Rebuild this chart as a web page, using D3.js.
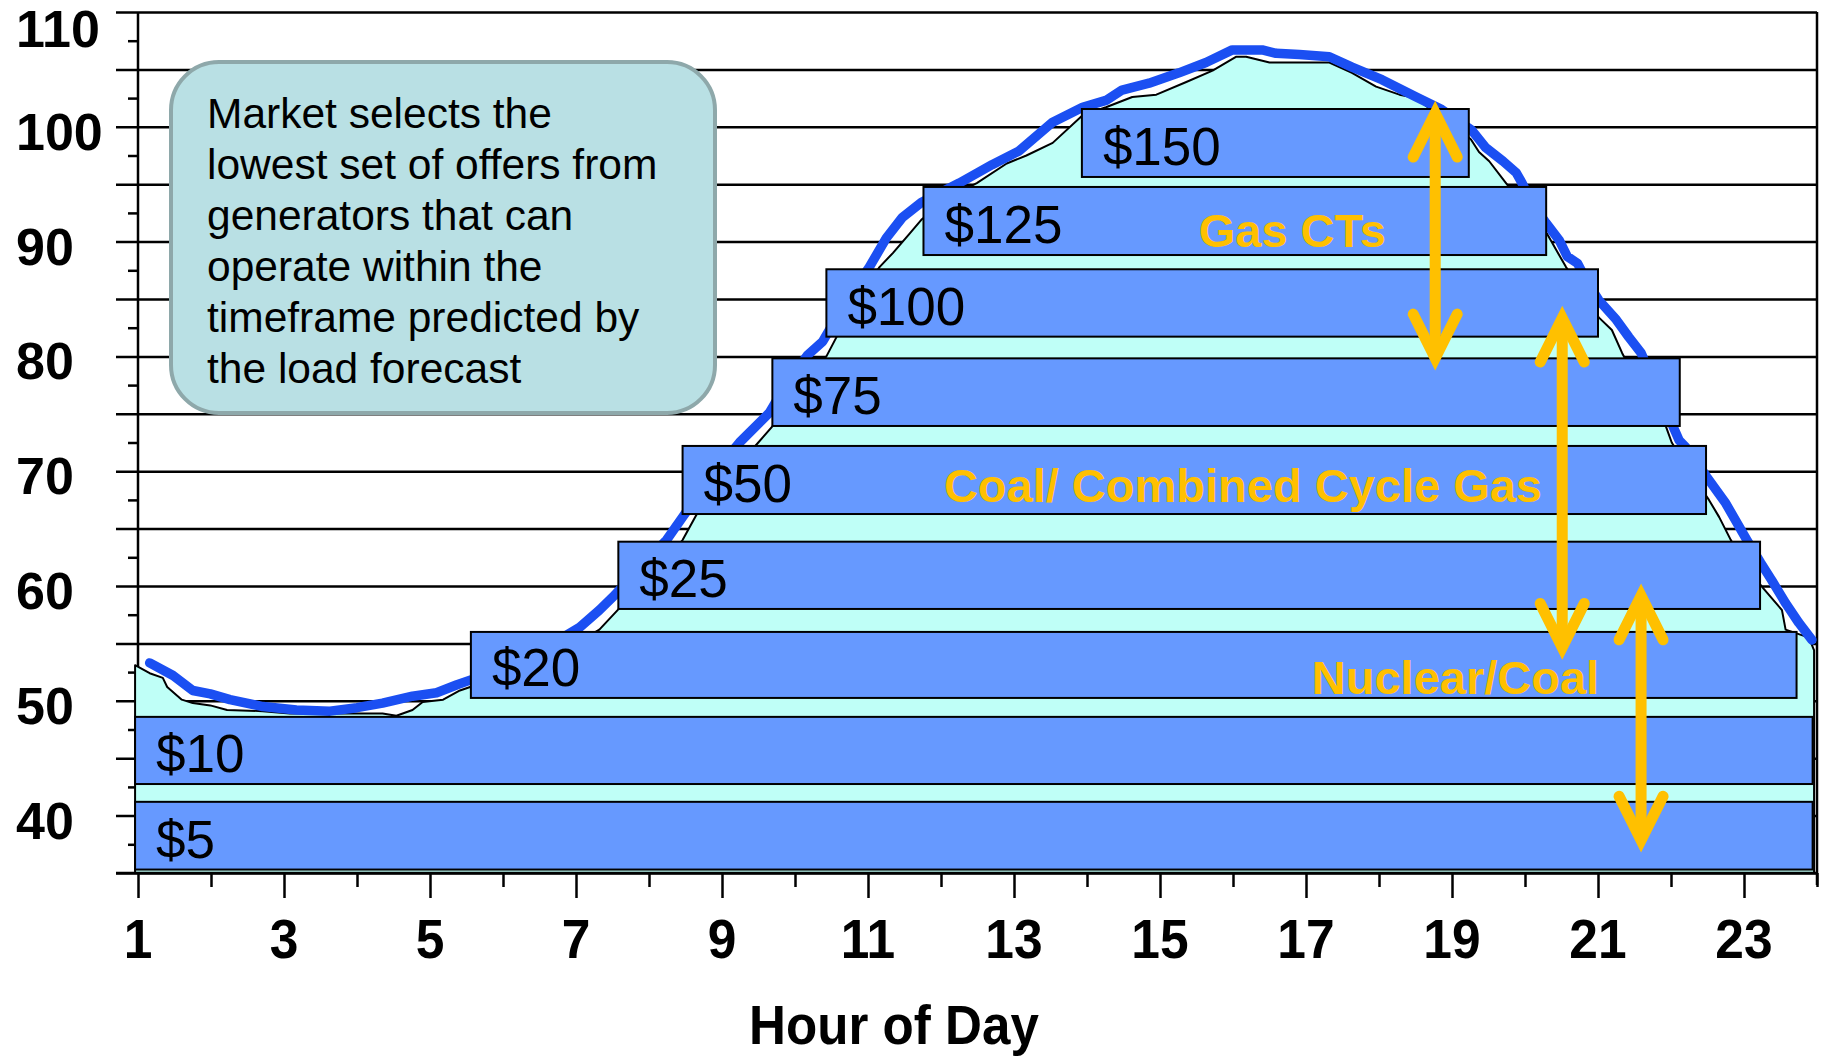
<!DOCTYPE html>
<html>
<head>
<meta charset="utf-8">
<script src="https://cdn.jsdelivr.net/npm/d3@7"></script>
<style>
  html, body { margin: 0; padding: 0; background: #ffffff; }
  svg { display: block; font-family: "Liberation Sans", Arial, Helvetica, sans-serif; }
</style>
</head>
<body>
<svg id="chart" width="1825" height="1060"></svg>
<script>
// ---- axis ticks ----
const xTickLabels = [1, 3, 5, 7, 9, 11, 13, 15, 17, 19, 21, 23];
const yTickLabels = [40, 50, 60, 70, 80, 90, 100, 110];

// ---- actual load (hour of day, load) ----
const loadHour = [0.96, 1.16, 1.34, 1.40, 1.60, 1.75, 1.99, 2.22, 2.71, 3.08, 3.45, 4.08, 4.35, 4.54,
  4.76, 4.90, 5.18, 5.41, 5.55, 6.0, 6.5, 7.0, 7.32, 7.57, 8.0, 8.46, 8.65, 9.0, 9.47, 9.69,
  10.0, 10.43, 10.57, 10.85, 11.16, 11.34, 11.57, 11.73, 12.1, 12.49, 12.90, 13.17, 13.53,
  13.94, 14.26, 14.62, 14.95, 15.36, 15.72, 16.04, 16.18, 16.50, 17.32, 17.63, 17.96, 18.28,
  18.51, 18.69, 19.0, 19.26, 19.37, 19.51, 19.74, 20.0, 20.30, 20.56, 20.8, 21.01, 21.19,
  21.33, 21.6, 21.93, 22.01, 22.25, 22.52, 22.66, 22.82, 23.0, 23.25, 23.52, 23.57, 23.89, 23.96];
const loadMW = [53.1, 52.4, 52.0, 51.2, 50.1, 49.8, 49.6, 49.2, 49.1, 48.9, 48.9, 48.9, 48.9, 48.7,
  49.2, 49.9, 50.1, 50.9, 51.2, 52.0, 53.3, 55.0, 56.2, 57.9, 60.8, 64.0, 66.2, 69.0, 72.3, 73.9,
  76.8, 80.0, 81.7, 85.0, 87.8, 89.0, 90.7, 91.9, 93.8, 95.1, 96.8, 97.5, 98.6,
  101.0, 101.7, 102.6, 102.8, 103.9, 104.9, 106.1, 106.1, 105.6, 105.6, 104.7, 103.5, 102.8,
  102.5, 101.6, 100.3, 98.9, 97.8, 97.0, 95.1, 93.0, 90.7, 87.8, 85.5, 83.4, 82.3,
  80.3, 77.0, 73.9, 72.5, 70.0, 67.5, 66.0, 64.0, 62.0, 59.9, 57.9, 56.2, 55.5, 54.4];

// ---- load forecast (hour of day, load) ----
const forecastHour = [1.16, 1.48, 1.75, 1.99, 2.26, 2.71, 3.17, 3.63, 4.00, 4.35, 4.76, 5.09, 5.37,
  5.55, 6.0, 6.5, 7.05, 7.32, 7.53, 7.9, 8.24, 8.46, 8.85, 9.24, 9.51, 9.65, 9.9, 10.17, 10.38,
  10.7, 11.02, 11.25, 11.47, 11.73, 12.25, 12.70, 13.07, 13.53, 13.94, 14.26, 14.48, 14.85,
  15.26, 15.63, 15.99, 16.40, 16.59, 16.91, 17.32, 17.63, 18.04, 18.51, 18.86, 19.27, 19.46,
  19.7, 19.88, 19.96, 20.1, 20.29, 20.47, 20.58, 20.72, 20.85, 21.01, 21.25, 21.42, 21.59,
  21.85, 22.11, 22.20, 22.35, 22.49, 22.75, 23.04, 23.23, 23.38, 23.57, 23.75, 23.93];
const forecastMW = [53.3, 52.2, 50.9, 50.6, 50.1, 49.5, 49.2, 49.1, 49.4, 49.8, 50.4, 50.7, 51.4,
  51.8, 52.8, 54.3, 56.4, 57.9, 59.2, 61.8, 64.0, 66.0, 69.5, 72.5, 74.2, 75.1, 77.8, 80.1, 81.3,
  84.8, 87.8, 90.3, 92.1, 93.4, 95.1, 96.7, 97.9, 100.4, 101.7, 102.3, 103.2, 103.8,
  104.7, 105.6, 106.7, 106.7, 106.4, 106.3, 106.1, 105.2, 104.1, 102.6, 101.5, 99.7, 98.2,
  97.0, 96.0, 95.1, 93.3, 91.6, 90.1, 88.7, 88.1, 86.5, 84.9, 83.2, 81.7, 80.3,
  76.5, 72.7, 72.1, 70.8, 69.5, 67.2, 64.0, 62.0, 60.5, 58.5, 56.8, 55.3];

// ---- generator offer blocks ----
const offerPrices = ["$5", "$10", "$20", "$25", "$50", "$75", "$100", "$125", "$150"];
const offerLow    = [35.3, 42.75, 50.25, 58.0, 66.27, 73.94, 81.72, 88.83, 95.63];
const offerHigh   = [41.2, 48.6, 56.0, 63.86, 72.2, 79.83, 87.59, 94.76, 101.55];
const offerStart  = [0.96, 0.96, 5.56, 7.58, 8.46, 9.69, 10.43, 11.76, 13.93];
const offerEnd    = [23.94, 23.94, 23.72, 23.22, 22.48, 22.12, 21.0, 20.29, 19.23];

// ---- generation type ranges (double-headed arrows) ----
const rangeHour = [18.77, 20.51, 21.59];
const rangeTop  = [101.55, 83.7, 59.5];
const rangeBottom = [79.5, 54.3, 37.5];

// ---- generation type labels ----
const typeNames = ["Gas CTs", "Coal/ Combined Cycle Gas", "Nuclear/Coal"];
const typeHour  = [15.53, 12.04, 17.08];
const typeLoad  = [89.5, 67.3, 50.6];

const noteLines = ["Market selects the", "lowest set of offers from", "generators that can",
  "operate within the", "timeframe predicted by", "the load forecast"];

// ---- layout ----
const svg = d3.select("#chart");
const plotL = 138, plotR = 1817, plotT = 12, plotB = 873;
const x = d3.scaleLinear().domain([1, 24]).range([plotL, plotR]);
const y = d3.scaleLinear().domain([35, 110]).range([plotB, plotT]);

const BAR = "#6699ff", AREA = "#bffff7", BLUE = "#1b4ff2", GOLD = "#ffc000";

// horizontal gridlines every 5, extended left as the major ticks
const major = d3.range(35, 110.01, 5);
const minor = d3.range(37.5, 110, 5);
svg.append("g")
  .attr("transform", `translate(116,0)`)
  .call(d3.axisLeft(y).tickValues(major).tickSize(-(plotR - 116)).tickFormat(""))
  .call(g => g.select(".domain").remove())
  .call(g => g.selectAll("line").attr("stroke", "#000").attr("stroke-width", 2.5));

svg.append("g")
  .attr("transform", `translate(${plotL},0)`)
  .call(d3.axisLeft(y).tickValues(minor).tickSize(10).tickFormat(""))
  .call(g => g.select(".domain").remove())
  .call(g => g.selectAll("line").attr("stroke", "#000").attr("stroke-width", 2.5));

// right frame
svg.append("line").attr("x1", plotR).attr("x2", plotR).attr("y1", plotT).attr("y2", plotB + 12)
  .attr("stroke", "#000").attr("stroke-width", 2.5);

// y axis line
svg.append("line").attr("x1", plotL).attr("x2", plotL).attr("y1", plotT).attr("y2", plotB)
  .attr("stroke", "#000").attr("stroke-width", 2.5);

// note box
const note = svg.append("g");
note.append("rect").attr("x", 171).attr("y", 62).attr("width", 544).attr("height", 351)
  .attr("rx", 48).attr("ry", 48)
  .attr("fill", "#b9e0e4").attr("stroke", "#8ea8aa").attr("stroke-width", 4);
note.selectAll("text").data(noteLines).join("text")
  .attr("x", 207).attr("y", (d, i) => 128 + i * 51)
  .attr("font-size", 42.5).attr("fill", "#000").text(d => d);

// actual load area
const loadPts = loadHour.map((h, i) => [h, loadMW[i]]);
svg.append("path").datum(loadPts)
  .attr("d", d3.area().x(d => x(d[0])).y0(y(35)).y1(d => y(d[1])))
  .attr("fill", AREA).attr("stroke", "#000").attr("stroke-width", 2).attr("stroke-linejoin", "round");

// x axis: odd hours long ticks, even hours short ticks
svg.append("g")
  .attr("transform", `translate(0,${plotB})`)
  .call(d3.axisBottom(x).tickValues(d3.range(1, 25, 2)).tickSize(25).tickFormat(""))
  .call(g => g.select(".domain").remove())
  .call(g => g.selectAll("line").attr("stroke", "#000").attr("stroke-width", 2.5));
svg.append("g")
  .attr("transform", `translate(0,${plotB})`)
  .call(d3.axisBottom(x).tickValues(d3.range(2, 25, 2)).tickSize(14).tickFormat(""))
  .call(g => g.select(".domain").remove())
  .call(g => g.selectAll("line").attr("stroke", "#000").attr("stroke-width", 2.5));
svg.append("line").attr("x1", 116).attr("x2", plotR).attr("y1", plotB).attr("y2", plotB)
  .attr("stroke", "#000").attr("stroke-width", 2.5);

// forecast line
const fcPts = forecastHour.map((h, i) => [h, forecastMW[i]]);
svg.append("path").datum(fcPts)
  .attr("d", d3.line().x(d => x(d[0])).y(d => y(d[1])))
  .attr("fill", "none").attr("stroke", BLUE).attr("stroke-width", 9.5)
  .attr("stroke-linecap", "round").attr("stroke-linejoin", "round");

// offer blocks
const offers = offerPrices.map((p, i) => ({
  price: p, low: offerLow[i], high: offerHigh[i], start: offerStart[i], end: offerEnd[i]
}));
const og = svg.append("g");
og.selectAll("rect").data(offers).join("rect")
  .attr("x", d => x(d.start)).attr("y", d => y(d.high))
  .attr("width", d => x(d.end) - x(d.start)).attr("height", d => y(d.low) - y(d.high))
  .attr("fill", BAR).attr("stroke", "#000").attr("stroke-width", 2);
og.selectAll("text").data(offers).join("text")
  .attr("x", d => x(d.start) + 21).attr("y", d => y(d.low) - 12)
  .attr("font-size", 53).attr("fill", "#000").text(d => d.price);

// generation type labels
svg.append("g").selectAll("text").data(typeNames).join("text")
  .attr("x", (d, i) => x(typeHour[i])).attr("y", (d, i) => y(typeLoad[i]))
  .attr("font-size", 47).attr("font-weight", "bold").attr("fill", GOLD).text(d => d);

// double-headed arrows
const ag = svg.append("g").attr("stroke", GOLD).attr("fill", "none")
  .attr("stroke-width", 11).attr("stroke-linecap", "round");
rangeHour.forEach((h, i) => {
  const ax = x(h), y1 = y(rangeTop[i]), y2 = y(rangeBottom[i]);
  ag.append("line").attr("x1", ax).attr("x2", ax).attr("y1", y1 + 6).attr("y2", y2 - 6)
    .attr("stroke-linecap", "butt");
  ag.append("path").attr("d", `M${ax - 22},${y1 + 48} L${ax},${y1 + 4} L${ax + 22},${y1 + 48}`)
    .attr("stroke-linejoin", "miter");
  ag.append("path").attr("d", `M${ax - 22},${y2 - 48} L${ax},${y2 - 4} L${ax + 22},${y2 - 48}`)
    .attr("stroke-linejoin", "miter");
});

// y tick labels
svg.append("g").selectAll("text").data(yTickLabels).join("text")
  .attr("x", 16).attr("y", d => Math.max(y(d) + 5, 29) + 18)
  .attr("font-size", 52).attr("font-weight", "bold").attr("fill", "#000").text(d => d);

// x tick labels
svg.append("g").selectAll("text").data(xTickLabels).join("text")
  .attr("transform", d => `translate(${x(d)},958) scale(0.92,1)`)
  .attr("text-anchor", "middle")
  .attr("font-size", 56).attr("font-weight", "bold").attr("fill", "#000").text(d => d);

// x axis title
svg.append("text")
  .attr("transform", `translate(894,1044) scale(0.93,1)`)
  .attr("text-anchor", "middle")
  .attr("font-size", 55).attr("font-weight", "bold").attr("fill", "#000").text("Hour of Day");
</script>
</body>
</html>
